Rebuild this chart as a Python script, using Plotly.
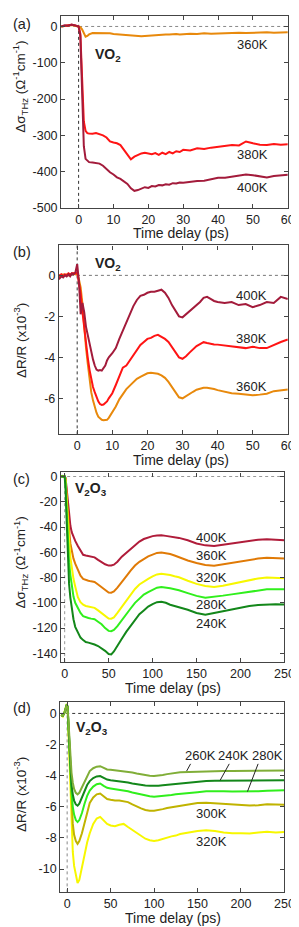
import plotly.graph_objects as go

# ---------------- Panel (a): VO2 THz conductivity ----------------
t_a = [-5, -4, -3, -2, -1, -0.5, 0, 0.5, 1, 1.5, 2, 2.5, 3, 4, 5, 6, 7, 8, 9, 10,
       11, 12, 13, 14, 15, 16, 17, 18, 19, 20, 21, 22, 23, 24, 25, 26, 27, 28, 29, 30,
       32, 34, 36, 38, 40, 42, 44, 46, 48, 50, 52, 54, 56, 58, 60]
a_360 = [0, 2, 3, 4, 2, 1, 0, -2, -8, -20, -28, -26, -22, -18, -18, -17, -18, -19, -19, -21,
         -22, -23, -24, -25, -26, -27, -28, -27, -26, -25, -24, -24, -23, -23, -22, -22, -21, -21, -22, -21,
         -20, -21, -19, -20, -19, -18, -19, -17, -18, -17, -18, -16, -17, -16, -16]
a_380 = [0, 2, 3, 5, 3, 2, 0, -20, -150, -262, -288, -294, -295, -296, -294, -296, -300, -306, -317, -320,
         -322, -327, -340, -355, -366, -359, -354, -350, -348, -351, -352, -349, -354, -348, -352, -346, -350, -344, -346, -340,
         -342, -336, -338, -334, -331, -330, -327, -328, -317, -322, -326, -327, -324, -326, -325]
a_400 = [0, 3, 2, 5, 3, 2, 0, -25, -180, -330, -365, -371, -374, -375, -376, -378, -384, -393, -402, -408,
         -416, -420, -426, -434, -446, -453, -451, -447, -443, -445, -440, -441, -437, -438, -435, -436, -432, -433, -430, -431,
         -428, -426, -425, -421, -417, -417, -414, -410, -408, -410, -413, -416, -412, -411, -409]
a_yticks = [0, -100, -200, -300, -400, -500]
a_yticktext = ["0", "-100", "-200", "-300", "-400", "-500"]
a_xticks = [0, 10, 20, 30, 40, 50, 60]

# ---------------- Panel (b): VO2 reflectivity ----------------
t_b = [-5.2, -5, -4.5, -4, -3.5, -3, -2.5, -2, -1.5, -1, -0.5, 0, 0.5, 1, 1.5, 2, 2.5, 3, 3.5, 4,
       4.5, 5, 5.5, 6, 6.5, 7, 7.5, 8, 8.5, 9, 10, 11, 12, 13, 14, 15, 16, 17, 18, 19,
       20, 21, 22, 23, 24, 25, 26, 27, 28, 29, 30, 31, 32, 33, 34, 35, 36, 37, 38, 39,
       40, 42, 44, 46, 48, 50, 52, 54, 56, 58, 60]
b_400 = [-0.1, -0.15, -0.05, -0.1, 0.0, -0.05, 0.05, -0.05, 0.1, 0.05, 0.15, 0.55, -0.3, -1.9, -1.35, -1.8, -2.5, -2.9, -3.4, -3.7,
         -4.1, -4.4, -4.6, -4.65, -4.62, -4.65, -4.55, -4.4, -4.15, -4.0, -3.8, -3.55, -3.1, -2.7, -2.25, -1.9, -1.5, -1.2, -1.0, -0.95,
         -0.85, -0.8, -0.8, -0.75, -0.7, -0.85, -1.1, -1.45, -1.75, -2.0, -2.05, -1.9, -1.75, -1.6, -1.45, -1.3, -1.1, -1.05, -1.15, -1.25,
         -1.3, -1.35, -1.3, -1.45, -1.4, -1.55, -1.45, -1.3, -1.35, -1.05, -1.15]
b_380 = [-0.05, 0.0, 0.05, -0.05, 0.05, 0.0, 0.1, 0.05, 0.1, 0.1, 0.1, 0.15, -0.3, -0.9, -1.8, -2.6, -3.3, -4.0, -4.6, -5.05,
         -5.45, -5.7, -5.95, -6.15, -6.28, -6.32, -6.3, -6.22, -6.15, -6.0, -5.75, -5.35, -4.9, -4.5, -4.4, -4.15, -3.9, -3.65, -3.4, -3.25,
         -3.1, -3.05, -2.95, -2.9, -3.0, -3.1, -3.25, -3.5, -3.75, -4.0, -4.07, -3.95, -3.77, -3.6, -3.45, -3.35, -3.26, -3.3, -3.35, -3.37,
         -3.38, -3.42, -3.45, -3.52, -3.55, -3.48, -3.55, -3.55, -3.38, -3.25, -3.13]
b_360 = [-0.05, -0.05, 0.0, 0.05, 0.0, 0.05, 0.0, 0.05, 0.05, 0.1, 0.05, 0.1, -0.2, -0.6, -1.4, -2.6, -3.5, -4.3, -5.0, -5.7,
         -6.1, -6.45, -6.7, -6.9, -7.0, -7.05, -7.07, -7.07, -7.05, -6.95, -6.7, -6.4, -6.05, -5.8, -5.55, -5.38, -5.2, -5.05, -4.95, -4.85,
         -4.78, -4.75, -4.77, -4.8, -4.88, -5.0, -5.2, -5.45, -5.75, -5.95, -6.0, -5.88, -5.78, -5.68, -5.58, -5.52, -5.49, -5.48, -5.5, -5.55,
         -5.6, -5.68, -5.75, -5.78, -5.82, -5.85, -5.82, -5.78, -5.65, -5.6, -5.57]
b_yticks = [0, -2, -4, -6]
b_yticktext = ["0", "-2", "-4", "-6"]
b_xticks = [0, 10, 20, 30, 40, 50, 60]

# ---------------- Panel (c): V2O3 THz conductivity ----------------
t_c = [-5, -3, -1, 0, 1, 2, 3, 4, 5, 6.5, 8, 10, 12, 15, 18, 21, 24, 27, 30, 34,
       38, 42, 46, 50, 53, 56, 60, 65, 70, 75, 80, 85, 90, 95, 100, 105, 110, 115, 120, 125,
       130, 140, 150, 160, 170, 180, 190, 200, 210, 220, 230, 240, 250]
c_400 = [0, 0.5, 0, 0, -1, -8, -18, -26, -32, -39, -44, -48, -51, -55, -59, -62, -62.5, -63, -63, -64,
         -66, -68, -69.5, -70.5, -70.5, -69.8, -67.5, -63.5, -60.5, -57, -54, -51.5, -49.5, -48.2, -47.2, -46.7, -46.5, -47, -47.5, -48,
         -48.6, -50.5, -53, -54.5, -55, -54, -53, -52, -50.7, -50, -49.6, -50, -50.5]
c_360 = [0, 0.3, 0, 0, -2, -12, -24, -34, -42, -53, -59, -65, -69, -74.5, -78.5, -81, -82, -82.5, -83, -83.5,
         -85.5, -87.5, -90, -91.8, -92, -91, -88, -83, -79, -74.5, -70.5, -67.5, -65, -63.2, -61.8, -60.5, -60.2, -60.5, -61.3, -62.5,
         -64, -66.5, -68.5, -70, -70.6, -69.5, -68.5, -67.5, -66, -65, -64.4, -64.6, -65]
c_320 = [0, 0.3, 0, 0, -3, -15, -30, -40, -50, -64, -72, -81, -87, -95.5, -99.5, -101.5, -102.5, -102.8, -103.2, -104,
         -106, -108, -110.5, -112.4, -112.6, -111.5, -108, -103, -98, -93.5, -89, -85.5, -83, -81, -79, -77.5, -77, -77.3, -78, -79,
         -79.8, -82.5, -85, -86.6, -87.4, -86.5, -85, -83.5, -81.8, -80.7, -80, -80.2, -80.5]
c_280 = [0, 0.3, 0, 0, -5, -22, -42, -58, -68, -78, -86, -95, -100, -104.5, -108, -110.5, -111.5, -112, -112.5, -113,
         -115, -117, -120, -122.2, -122.5, -121.5, -118.5, -113.5, -109, -104.5, -100, -96.5, -93.5, -91.5, -89.5, -88, -87.5, -87.8, -88.5, -89.2,
         -90, -92.3, -94.5, -95.9, -95.3, -94.3, -93.3, -92.3, -90.8, -90, -89.3, -89.2, -89.2]
c_240 = [0, 0.3, 0, 0, -10, -30, -55, -75, -85, -96, -105, -113, -119, -124, -127.5, -129.5, -131, -131.5, -132, -133,
         -134.2, -136, -138, -140.5, -140.8, -138.5, -134.5, -128.5, -123, -118, -113, -109, -106, -103, -101, -99.5, -99.2, -100, -101.5, -102.5,
         -103.3, -105.5, -108, -109.5, -108, -106.5, -105, -104, -102.5, -101.8, -101.3, -101.2, -101.3]
c_yticks = [0, -20, -40, -60, -80, -100, -120, -140]
c_yticktext = ["0", "-20", "-40", "-60", "-80", "-100", "-120", "-140"]
c_xticks = [0, 50, 100, 150, 200, 250]

# ---------------- Panel (d): V2O3 reflectivity ----------------
t_d = [-7, -5, -3, -1.5, -0.5, 0.5, 1.5, 2.5, 3.5, 5, 6.5, 8, 10, 12, 14, 17, 20, 23, 26, 30,
       34, 38, 42, 46, 50, 55, 60, 65, 70, 75, 80, 85, 90, 95, 100, 105, 110, 115, 120, 125,
       130, 140, 150, 160, 170, 180, 190, 200, 210, 220, 230, 240, 250]
d_260 = [-0.1, -0.15, 0.05, 0.3, 0.55, 0.45, -0.5, -1.8, -2.9, -3.8, -4.45, -4.85, -5.1, -5.2, -5.1, -4.75, -4.3, -3.95, -3.7, -3.52,
         -3.42, -3.39, -3.52, -3.6, -3.62, -3.65, -3.68, -3.72, -3.75, -3.8, -3.86, -3.92, -3.97, -4.0, -4.02, -4.0, -3.95, -3.9, -3.85, -3.8,
         -3.78, -3.76, -3.74, -3.71, -3.7, -3.7, -3.7, -3.7, -3.69, -3.69, -3.68, -3.67, -3.66]
d_240 = [-0.1, -0.15, 0.05, 0.3, 0.55, 0.45, -0.6, -2.0, -3.3, -4.6, -5.2, -5.6, -5.85, -5.93, -5.8, -5.45, -5.0, -4.6, -4.35, -4.15,
         -4.05, -4.02, -4.15, -4.25, -4.3, -4.33, -4.37, -4.4, -4.44, -4.5, -4.55, -4.6, -4.63, -4.65, -4.66, -4.64, -4.61, -4.58, -4.55, -4.52,
         -4.48, -4.42, -4.37, -4.34, -4.33, -4.33, -4.32, -4.32, -4.31, -4.31, -4.3, -4.3, -4.3]
d_280 = [-0.1, -0.15, 0.05, 0.3, 0.55, 0.45, -0.7, -2.3, -3.7, -5.0, -6.0, -6.5, -6.85, -6.98, -6.85, -6.4, -5.8, -5.3, -4.95, -4.7,
         -4.55, -4.5, -4.65, -4.78, -4.82, -4.86, -4.9, -4.95, -5.0, -5.08, -5.15, -5.2, -5.27, -5.32, -5.35, -5.33, -5.3, -5.28, -5.24, -5.2,
         -5.18, -5.1, -5.06, -5.0, -4.98, -5.0, -5.02, -5.02, -5.03, -5.0, -4.97, -4.95, -4.93]
d_300 = [-0.1, -0.15, 0.05, 0.3, 0.5, 0.4, -0.8, -2.6, -4.2, -5.9, -7.1, -7.8, -8.2, -8.38, -8.2, -7.7, -7.0, -6.25, -5.75, -5.4,
         -5.2, -5.15, -5.35, -5.5, -5.55, -5.6, -5.6, -5.65, -5.7, -5.85, -6.0, -6.1, -6.2, -6.25, -6.25, -6.22, -6.15, -6.08, -6.03, -5.98,
         -5.93, -5.82, -5.76, -5.74, -5.78, -5.8, -5.82, -5.86, -5.92, -5.9, -5.83, -5.85, -5.87]
d_320 = [-0.1, -0.2, 0.1, 0.35, 0.6, 0.45, -1.0, -3.0, -5.0, -7.3, -8.9, -9.8, -10.5, -10.9, -10.7, -10.0, -9.1, -8.3, -7.7, -7.1,
         -6.75, -6.65, -6.9, -7.1, -7.2, -7.25, -7.15, -7.1, -7.3, -7.5, -7.7, -7.9, -8.05, -8.15, -8.2, -8.15, -8.05, -7.95, -7.9, -7.85,
         -7.75, -7.65, -7.55, -7.5, -7.55, -7.65, -7.7, -7.7, -7.72, -7.65, -7.6, -7.65, -7.62]
d_yticks = [0, -2, -4, -6, -8, -10]
d_yticktext = ["0", "-2", "-4", "-6", "-8", "-10"]
d_xticks = [0, 50, 100, 150, 200, 250]

FONT = "Liberation Sans, Arial, Helvetica, sans-serif"
TXT = "#222222"
AX = "#444444"

C_DRED = "#a31b3b"
C_RED = "#ff1414"
C_ORG = "#e8890c"
C_YEL = "#f7f700"
C_LGRN = "#30ef1c"
C_DGRN = "#13871a"
C_OLG = "#80ae38"
C_OLV = "#c0b300"

fig = go.Figure()

def add(x, y, color, ax):
    fig.add_trace(go.Scatter(x=x, y=y, mode="lines", line=dict(color=color, width=2),
                             xaxis="x" + ax, yaxis="y" + ax, hoverinfo="skip"))

add(t_a, a_360, C_ORG, "")
add(t_a, a_380, C_RED, "")
add(t_a, a_400, C_DRED, "")

add(t_b, b_360, C_ORG, "2")
add(t_b, b_380, C_RED, "2")
add(t_b, b_400, C_DRED, "2")

add(t_c, c_400, "#b01c3a", "3")
add(t_c, c_360, "#e07a06", "3")
add(t_c, c_320, C_YEL, "3")
add(t_c, c_280, C_LGRN, "3")
add(t_c, c_240, C_DGRN, "3")

add(t_d, d_320, C_YEL, "4")
add(t_d, d_300, C_OLV, "4")
add(t_d, d_280, C_LGRN, "4")
add(t_d, d_240, C_DGRN, "4")
add(t_d, d_260, C_OLG, "4")

TICKFONT = dict(family=FONT, size=12.5, color=TXT)

def xax(domain, rng, ticks, anchor):
    return dict(domain=domain, range=rng, tickvals=ticks, ticktext=[str(v) for v in ticks],
                showline=True, linecolor=AX, linewidth=1.2, mirror="ticks",
                ticks="inside", ticklen=4, tickcolor=AX, tickwidth=1, showgrid=False,
                zeroline=False, anchor=anchor, ticklabelstandoff=0, tickfont=TICKFONT)

def yax(domain, rng, ticks, texts, anchor):
    return dict(domain=domain, range=rng, tickvals=ticks, ticktext=texts,
                showline=True, linecolor=AX, linewidth=1.2, mirror="ticks",
                ticks="inside", ticklen=4, tickcolor=AX, tickwidth=1, showgrid=False,
                zeroline=False, anchor=anchor, tickfont=TICKFONT)

W, H = 299, 927
def fx(px):
    return px / W
def fy(py):
    return 1 - py / H

fig.update_layout(
    width=W, height=H, margin=dict(l=0, r=0, t=0, b=0),
    paper_bgcolor="white", plot_bgcolor="white", showlegend=False,
    xaxis=xax([fx(55), fx(289.5)], [-5, 60], a_xticks, "y"),
    yaxis=yax([fy(199), fy(5)], [-500, 29], a_yticks, a_yticktext, "x"),
    xaxis2=xax([fx(52.7), fx(289.5)], [-5.2, 60], b_xticks, "y2"),
    yaxis2=yax([fy(428), fy(237)], [-7.76, 1.46], b_yticks, b_yticktext, "x2"),
    xaxis3=xax([fx(55), fx(286)], [-4, 250], c_xticks, "y3"),
    yaxis3=yax([fy(658.3), fy(466.5)], [-147, 3.2], c_yticks, c_yticktext, "x3"),
    xaxis4=xax([fx(54), fx(286)], [-8, 250], d_xticks, "y4"),
    yaxis4=yax([fy(891), fy(698.3)], [-11.5, 0.75], d_yticks, d_yticktext, "x4"),
)

shapes = []
for ax, hcol, vcol in [("", "#888888", "#333333"), ("2", "#777777", "#333333"),
                       ("3", "#999999", "#999999"), ("4", "#333333", "#888888")]:
    xr = "x" + ax
    yr = "y" + ax
    shapes.append(dict(type="line", xref=xr + " domain", yref=yr, x0=0, x1=1, y0=0, y1=0,
                       line=dict(color=hcol, width=1, dash="dot"), layer="below"))
    shapes.append(dict(type="line", xref=xr, yref=yr + " domain", x0=0, x1=0, y0=0, y1=1,
                       line=dict(color=vcol, width=1, dash="dot"), layer="below"))
# leader lines panel (d)
shapes.append(dict(type="line", xref="x4", yref="y4", x0=142, y0=-3.24, x1=137.5, y1=-3.7, line=dict(color="#222", width=1)))
shapes.append(dict(type="line", xref="x4", yref="y4", x0=186.5, y0=-3.24, x1=176, y1=-4.3, line=dict(color="#222", width=1)))
shapes.append(dict(type="line", xref="x4", yref="y4", x0=219.7, y0=-3.24, x1=207.5, y1=-5.02, line=dict(color="#222", width=1)))
fig.update_layout(shapes=shapes)

ann = []
def label(text, x, y, ax, size=13, bold=False):
    ann.append(dict(text=("<b>%s</b>" % text) if bold else text, x=x, y=y,
                    xref="x" + ax, yref="y" + ax, showarrow=False,
                    font=dict(family=FONT, size=size, color=TXT)))

def paper(text, px, py, size=13, angle=0):
    ann.append(dict(text=text, x=fx(px), y=fy(py), xref="paper", yref="paper",
                    showarrow=False, textangle=angle, xanchor="center", yanchor="middle",
                    font=dict(family=FONT, size=size, color=TXT)))

# panel (a)
label("360K", 49.8, -50, "")
label("380K", 49.8, -352, "")
label("400K", 49.8, -443, "")
label("VO<sub>2</sub>", 8.5, -80, "", size=14, bold=True)
# panel (b)
label("400K", 49.7, -0.99, "2")
label("380K", 49.7, -3.08, "2")
label("360K", 49.7, -5.4, "2")
label("VO<sub>2</sub>", 8.8, 0.56, "2", size=14, bold=True)
# panel (c)
label("400K", 166.5, -48, "3")
label("360K", 166.5, -62.9, "3")
label("320K", 166.5, -79.6, "3")
label("280K", 166.5, -101.5, "3")
label("240K", 166.5, -116.2, "3")
label("V<sub>2</sub>O<sub>3</sub>", 30, -9.8, "3", size=14, bold=True)
# panel (d)
label("260K", 153, -2.73, "4")
label("240K", 191, -2.73, "4")
label("280K", 231, -2.73, "4")
label("300K", 166, -6.46, "4")
label("320K", 166, -8.25, "4")
label("V<sub>2</sub>O<sub>3</sub>", 29, -0.95, "4", size=14, bold=True)

# panel letters
paper("(a)", 14, 13, size=14.5)
paper("(b)", 14, 244, size=14.5)
paper("(c)", 14, 473, size=14.5)
paper("(d)", 14, 705, size=14.5)

# axis titles
paper("Time delay (ps)", 179, 224.5, size=14)
paper("Time delay (ps)", 179, 454, size=14)
paper("Time delay (ps)", 171, 684, size=14)
paper("Time delay (ps)", 171, 916.5, size=14)
paper("Δσ<sub>THz</sub> (Ω<sup>-1</sup>cm<sup>-1</sup>)", 13, 77, size=13.5, angle=-90)
paper("ΔR/R (x10<sup>-3</sup>)", 13, 333, size=13.5, angle=-90)
paper("Δσ<sub>THz</sub> (Ω<sup>-1</sup>cm<sup>-1</sup>)", 13, 558, size=13.5, angle=-90)
paper("ΔR/R (x10<sup>-3</sup>)", 13, 792, size=13.5, angle=-90)

fig.update_layout(annotations=ann)

fig.write_html("out.html")
